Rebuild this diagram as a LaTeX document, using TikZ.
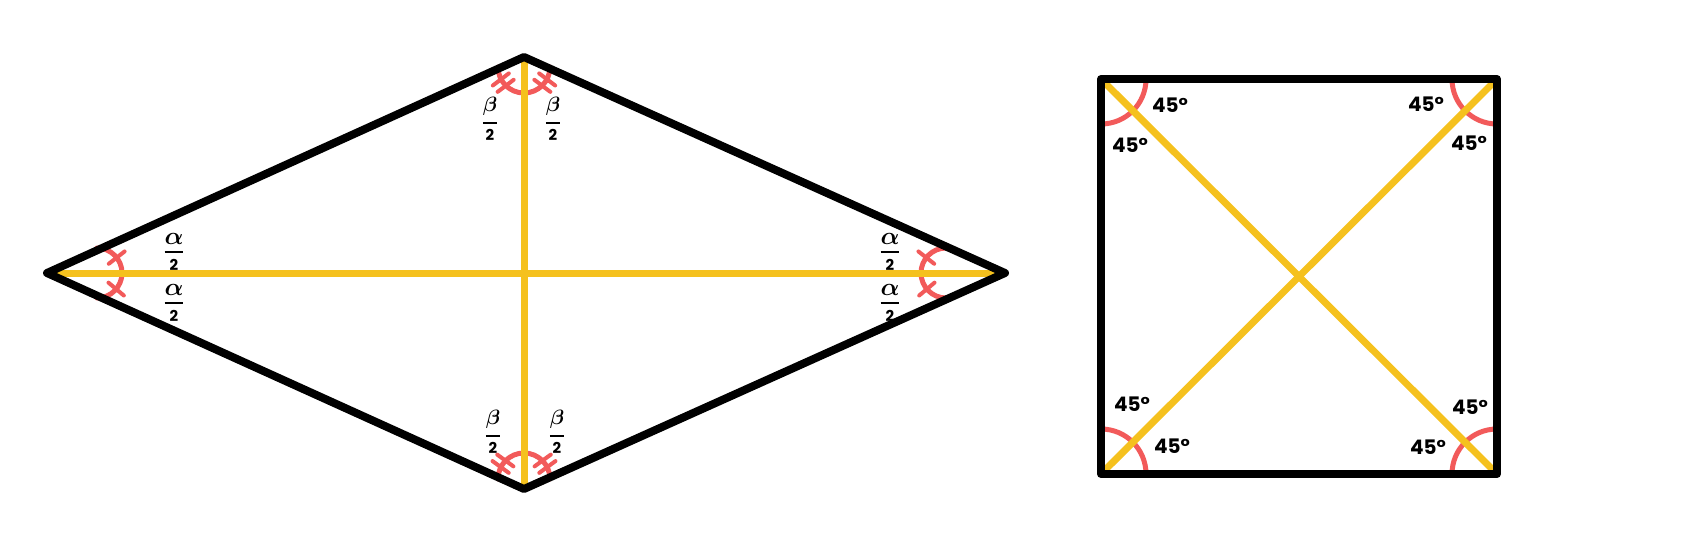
\documentclass[tikz,border=0pt]{standalone}
\usepackage{amsmath}
\usepackage{fontspec}
\newfontfamily\pop{Poppins}
\definecolor{ylw}{HTML}{F5C11E}
\definecolor{rd}{HTML}{F25A5A}
\tikzset{
 edge/.style={line width=8pt, line join=round, line cap=round, black},
 diag/.style={line width=7pt, ylw},
 angarc/.style={line width=5pt, rd, line cap=round},
 tk/.style={line width=4pt, rd, line cap=round},
 deg/.style={font=\pop\bfseries\fontsize{20}{20}\selectfont, inner sep=0pt},
 frc/.style={font=\fontsize{12}{12}\selectfont, inner sep=0pt},
}
\newcommand\myfr[2]{$\displaystyle\genfrac{}{}{2pt}{0}{\hbox{\fontsize{#2}{#2}\selectfont\boldmath$#1$}}{\hbox{\pop\bfseries\fontsize{15}{15}\selectfont 2}}$}
\newcommand\onetick[3]{\begin{scope}[shift={(#1)},rotate=#3]\draw[tk] (#2-10,0) -- (#2+10,0);\end{scope}}
\newcommand\twotick[3]{\begin{scope}[shift={(#1)},rotate=#3]\draw[tk] (#2-10,4) -- (#2+10,4);\draw[tk] (#2-10,-4) -- (#2+10,-4);\end{scope}}
\begin{document}
\begin{tikzpicture}[x=1pt,y=1pt]
\useasboundingbox (0,0) rectangle (1691,-549);
% rhombus vertices
\coordinate (L) at (47,-273);
\coordinate (T) at (524,-57);
\coordinate (R) at (1005,-273);
\coordinate (B) at (524,-489);
% arc centres
\coordinate (cL) at (97,-273);
\coordinate (cR) at (946,-273);
\coordinate (cT) at (524,-67);
\coordinate (cB) at (524,-479);
% square corners
\coordinate (TL) at (1101,-79);
\coordinate (TR) at (1497,-79);
\coordinate (BR) at (1497,-474);
\coordinate (BL) at (1101,-474);
% red arcs
\draw[angarc] (cL) ++(90:25) arc[start angle=90,end angle=-90,radius=25];
\draw[angarc] (cR) ++(90:25) arc[start angle=90,end angle=270,radius=25];
\draw[angarc] (cT) ++(180:26) arc[start angle=180,end angle=360,radius=26];
\draw[angarc] (cB) ++(180:26) arc[start angle=180,end angle=0,radius=26];
\onetick{cL}{25}{38}
\onetick{cL}{25}{-40}
\onetick{cR}{25}{142}
\onetick{cR}{25}{220}
\twotick{cT}{26}{217}
\twotick{cT}{26}{323}
\twotick{cB}{26}{144}
\twotick{cB}{26}{36}
\draw[angarc] (TL) ++(0:45) arc[start angle=0,end angle=-90,radius=45];
\draw[angarc] (TR) ++(180:45) arc[start angle=180,end angle=270,radius=45];
\draw[angarc] (BR) ++(90:45) arc[start angle=90,end angle=180,radius=45];
\draw[angarc] (BL) ++(0:45) arc[start angle=0,end angle=90,radius=45];
% yellow diagonals
\draw[diag] (L) -- (R);
\draw[diag] (T) -- (B);
\draw[diag] (TL) -- (BR);
\draw[diag] (TR) -- (BL);
% black outlines
\draw[edge] (L) -- (T) -- (R) -- (B) -- cycle;
\draw[edge] (TL) -- (TR) -- (BR) -- (BL) -- cycle;
% fraction labels
\node[frc] (a1) at (174,-252) {\myfr{\alpha}{28}};
\node[frc] (a2) at (174,-303) {\myfr{\alpha}{28}};
\node[frc] (a3) at (890,-252) {\myfr{\alpha}{28}};
\node[frc] (a4) at (890,-303) {\myfr{\alpha}{28}};
\node[frc] (b1) at (490,-119) {\myfr{\beta}{20}};
\node[frc] (b2) at (553,-119) {\myfr{\beta}{20}};
\node[frc] (b3) at (493,-432) {\myfr{\beta}{20}};
\node[frc] (b4) at (557,-432) {\myfr{\beta}{20}};
% degree labels
\node[deg] (d1) at (1170,-105) {45°};
\node[deg] (d2) at (1130,-145) {45°};
\node[deg] (d3) at (1426,-104) {45°};
\node[deg] (d4) at (1469,-143) {45°};
\node[deg] (d5) at (1470,-407) {45°};
\node[deg] (d6) at (1428,-447) {45°};
\node[deg] (d7) at (1132,-404) {45°};
\node[deg] (d8) at (1172,-446) {45°};
\end{tikzpicture}
\end{document}
